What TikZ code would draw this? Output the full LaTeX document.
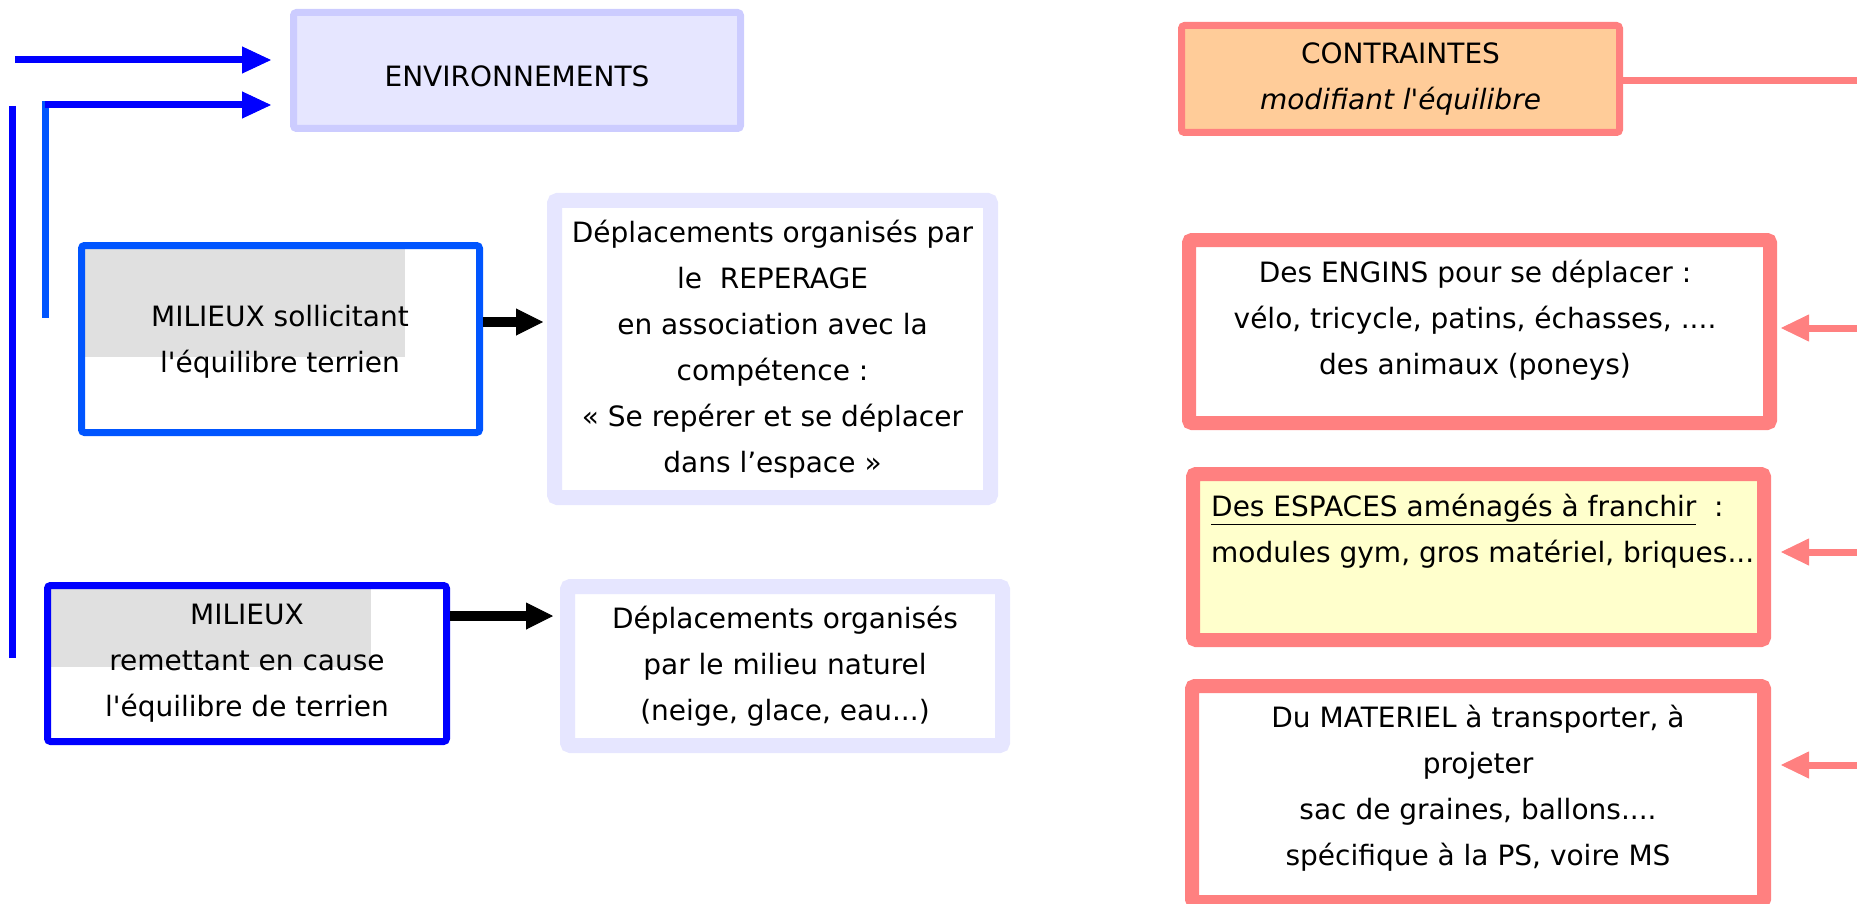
\documentclass[tikz,border=0pt]{standalone}
\usepackage{fontspec}
\setmainfont{DejaVu Sans}
\usetikzlibrary{arrows.meta,calc}

\definecolor{envline}{RGB}{204,204,255}
\definecolor{envfill}{RGB}{230,230,255}
\definecolor{milblue}{RGB}{0,85,255}
\definecolor{salmon}{RGB}{255,128,128}
\definecolor{peach}{RGB}{255,204,153}
\definecolor{paleyellow}{RGB}{255,255,204}
\definecolor{marble}{RGB}{224,224,224}

\newcommand{\boxfont}{\fontsize{28}{46}\selectfont}
\newcommand{\apos}{\textquotesingle}

\tikzset{
  panel/.style={rectangle, rounded corners=3pt, align=center, font=\boxfont, inner sep=0pt},
  milbox/.style={panel, draw=#1, line width=7pt},
  deplbox/.style={panel, draw=envfill, fill=white, line width=15pt},
  redbox/.style={panel, draw=salmon, fill=#1, line width=14pt},
  txt/.style={font=\boxfont, align=center, inner sep=0pt},
  bluearrow/.style={draw=blue, line width=7pt, -{Triangle[length=29pt,width=27pt,line width=1pt]}},
  blackarrow/.style={line width=10pt, -{Triangle[length=27pt,width=27pt,line width=1pt]}},
  redarrow/.style={draw=salmon, line width=7pt, -{Triangle[length=28pt,width=27pt,line width=1pt]}},
}

\begin{document}
\begin{tikzpicture}[x=1pt,y=-1pt]
\useasboundingbox (0,0) rectangle (1857,904);

% ENVIRONNEMENTS (top left)
\node[panel, draw=envline, fill=envfill, line width=7pt, minimum width=447pt, minimum height=116pt, text height=33pt] (env) at (517,70.5) {ENVIRONNEMENTS};

% Milieu sollicitant l'equilibre
\fill[marble] (85,248) rectangle (405,357);
\node[milbox=milblue, minimum width=398pt, minimum height=187pt] (mil1) at (280.5,339) {};
\node[txt] (mil1-txt) at (280,342) {MILIEUX sollicitant\\ l\apos équilibre terrien};

% Milieu remettant en cause l'equilibre
\fill[marble] (51,588) rectangle (371,667);
\node[milbox=blue, minimum width=399pt, minimum height=156pt] (mil2) at (247,663.5) {MILIEUX\\ remettant en cause\\ l\apos équilibre de terrien};

% Deplacements
\node[deplbox, minimum width=436pt, minimum height=297pt] (dep1) at (772.5,349) {Déplacements organisés par\\ le~~REPERAGE\\ en association avec la\\ compétence :\\ « Se repérer et se déplacer\\ dans l’espace »};
\node[deplbox, minimum width=435pt, minimum height=159pt] (dep2) at (785,666) {Déplacements organisés\\ par le milieu naturel\\ (neige, glace, eau...)};

% Blue lines coming in from the left
\coordinate (b1) at (15,60);
\draw[bluearrow, shorten >=19pt] (b1) -- (env.west |- b1);

\coordinate (b2) at (45,314.5);
\coordinate (b2top) at (45,105);
\draw[milblue, line width=7pt, line cap=rect] (b2) -- (b2top);
\draw[bluearrow, shorten >=19pt] (b2top) -- (env.west |- b2top);

\coordinate (b3top) at (12,106);
\coordinate (b3bot) at (12,658);
\draw[blue, line width=7pt] (b3top) -- (b3bot);

% Milieux -> deplacements
\coordinate (k1) at (483,322);
\draw[blackarrow, shorten >=4pt] (mil1.east |- k1) -- (dep1.west |- k1);
\coordinate (k2) at (450,616);
\draw[blackarrow, shorten >=7pt] (mil2.east |- k2) -- (dep2.west |- k2);

% CONTRAINTES (right)
\node[redbox=peach, line width=7pt, minimum width=438pt, minimum height=107pt] (contr) at (1400.5,79) {CONTRAINTES\\ \textit{modifiant l\apos équilibre}};

\node[redbox=white, minimum width=581pt, minimum height=183pt] (engins) at (1479.5,331.5) {};
\node[txt] (engins-txt) at (1475,320) {Des ENGINS pour se déplacer :\\ vélo, tricycle, patins, échasses, ....\\ des animaux (poneys)};

\node[redbox=paleyellow, minimum width=571pt, minimum height=166pt] (espaces) at (1478.5,557) {};
\node[txt, align=left, anchor=west] (espaces-txt) at (1211,531.5) {\underline{Des ESPACES aménagés à franchir}~~:\\ modules gym, gros matériel, briques...};

\node[redbox=white, minimum width=572pt, minimum height=216pt] (materiel) at (1478,794) {};
\node[txt] (materiel-txt) at (1478,788) {Du MATERIEL à transporter, à\\ projeter\\ sac de graines, ballons....\\ spécifique à la PS, voire MS};

% Salmon line and arrows from the right edge
\coordinate (r0) at (1857,81);
\draw[salmon, line width=7pt] (contr.east |- r0) -- (r0);
\coordinate (r1) at (1857,328);
\draw[redarrow, shorten >=4pt] (r1) -- (engins.east |- r1);
\coordinate (r2) at (1857,552);
\draw[redarrow, shorten >=10pt] (r2) -- (espaces.east |- r2);
\coordinate (r3) at (1857,765);
\draw[redarrow, shorten >=10pt] (r3) -- (materiel.east |- r3);

\end{tikzpicture}
\end{document}
